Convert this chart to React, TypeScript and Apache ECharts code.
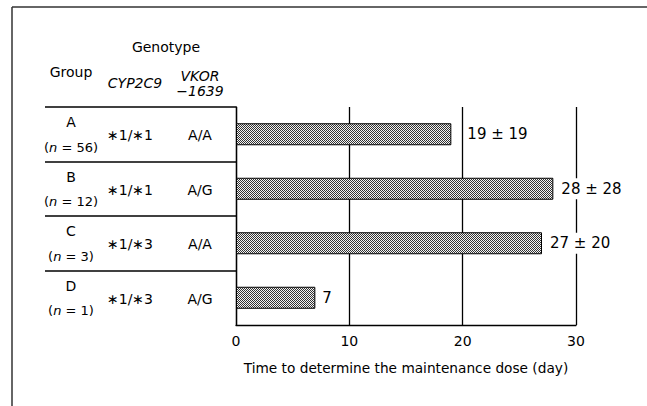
import React, { useEffect, useRef } from "react";
import * as echarts from "echarts";

const groups = ["A", "B", "C", "D"];
const nCounts = [56, 12, 3, 1];
const cyp2c9 = ["\u22171/\u22171", "\u22171/\u22171", "\u22171/\u22173", "\u22171/\u22173"];
const vkor = ["A/A", "A/G", "A/A", "A/G"];
const means = [19, 28, 27, 7];
const sds: (number | null)[] = [19, 28, 20, null];
const xTicks = { min: 0, max: 30, interval: 10 };
const axisTitle = "Time to determine the maintenance dose (day)";

const FONT = "'DejaVu Sans', 'Noto Sans', sans-serif";
const labelDistances = [14, 6, 6, 5];

const patternSvg =
  "<svg xmlns='http://www.w3.org/2000/svg' width='2' height='2'>" +
  "<rect width='2' height='2' fill='#f4f4f4'/>" +
  "<rect x='0' y='0' width='1' height='1' fill='#333333'/>" +
  "<rect x='1' y='1' width='1' height='1' fill='#333333'/></svg>";
const patternUrl = "data:image/svg+xml;charset=utf-8," + encodeURIComponent(patternSvg);

export default function App() {
  const ref = useRef<HTMLDivElement>(null);
  useEffect(() => {
    if (!ref.current) return;
    const chart = echarts.init(ref.current, undefined, { renderer: "svg" });
    const gridTop = 107;
    const gridLeft = 236;
    const option: any = {
      animation: false,
      backgroundColor: "#fff",
      textStyle: { fontFamily: FONT, color: "#000" },
      grid: { left: gridLeft, right: 71, top: gridTop, bottom: 81, containLabel: false },
      xAxis: {
        type: "value",
        min: xTicks.min,
        max: xTicks.max,
        interval: xTicks.interval,
        axisLine: { show: true, lineStyle: { color: "#000", width: 1.3 } },
        axisTick: { show: false },
        splitLine: { show: true, lineStyle: { color: "#000", width: 1.3 } },
        axisLabel: { color: "#000", fontSize: 14, margin: 9, fontFamily: FONT },
        name: axisTitle,
        nameLocation: "middle",
        nameGap: 36,
        nameTextStyle: { color: "#000", fontSize: 13.7, fontFamily: FONT },
      },
      yAxis: {
        type: "category",
        data: groups,
        inverse: true,
        axisLine: { show: true, lineStyle: { color: "#000", width: 1.3 } },
        axisTick: { show: false },
        axisLabel: { show: false },
        splitLine: { show: false },
      },
      series: [
        {
          type: "bar",
          barWidth: 22,
          data: means.map((v, i) => ({
            value: v,
            label: { distance: labelDistances[i] },
          })),
          itemStyle: {
            color: {
              image: patternUrl,
              repeat: "repeat",
              imageWidth: 2,
              imageHeight: 2,
            },
            borderColor: "#000",
            borderWidth: 1,
          },
          label: {
            show: true,
            position: "right",
            color: "#000",
            fontSize: 15,
            fontFamily: FONT,
            backgroundColor: "#fff",
            padding: [3, 2, 3, 2],
            formatter: (p: any) => {
              const sd = sds[p.dataIndex];
              return sd == null ? `${p.value}` : `${p.value} ± ${sd}`;
            },
          },
        },
      ],
    };
    chart.setOption(option);

    const centers = groups.map((g) => chart.convertToPixel({ yAxisIndex: 0 }, g) as number);
    const step = centers.length > 1 ? centers[1] - centers[0] : 54;
    const lineStyle = { stroke: "#000", lineWidth: 1.3 };
    const els: any[] = [];
    // outer frame
    els.push({ type: "line", shape: { x1: 12, y1: 7, x2: 647, y2: 7 }, style: { stroke: "#333", lineWidth: 1.5 } });
    els.push({ type: "line", shape: { x1: 12, y1: 7, x2: 12, y2: 406 }, style: { stroke: "#333", lineWidth: 1.5 } });
    // table lines
    els.push({ type: "line", shape: { x1: 45, y1: gridTop, x2: gridLeft, y2: gridTop }, style: lineStyle });
    centers.forEach((c, i) => {
      if (i > 0) {
        const y = Math.round(c - step / 2);
        els.push({ type: "line", shape: { x1: 45, y1: y, x2: gridLeft, y2: y }, style: lineStyle });
      }
    });
    const txt = (x: number, y: number, text: string, extra: any = {}) => ({
      type: "text",
      x,
      y,
      style: {
        text,
        fontSize: 14,
        fontFamily: FONT,
        fill: "#000",
        align: "center",
        verticalAlign: "middle",
        ...extra,
      },
    });
    // headers
    els.push(txt(166, 47, "Genotype"));
    els.push(txt(71, 72, "Group"));
    els.push(txt(135, 83, "CYP2C9", { fontStyle: "italic" }));
    els.push(txt(200, 83, "VKOR\n\u22121639", { fontStyle: "italic", lineHeight: 15 }));
    // rows
    centers.forEach((c, i) => {
      els.push(txt(71, c - 12, groups[i], { fontSize: 14 }));
      els.push({
        type: "text",
        x: 71,
        y: c + 13,
        style: {
          text: `({i|n} = ${nCounts[i]})`,
          fontSize: 13,
          fontFamily: FONT,
          fill: "#000",
          align: "center",
          verticalAlign: "middle",
          rich: { i: { fontStyle: "italic", fontSize: 13, fontFamily: FONT, fill: "#000" } },
        },
      });
      els.push(txt(130, c + 1, cyp2c9[i], { fontSize: 14 }));
      els.push(txt(200, c + 1, vkor[i], { fontSize: 14 }));
    });
    chart.setOption({ graphic: { elements: els } });

    return () => chart.dispose();
  }, []);
  return <div ref={ref} style={{ width: 647, height: 406, position: "absolute", left: 0, top: 0 }} />;
}
